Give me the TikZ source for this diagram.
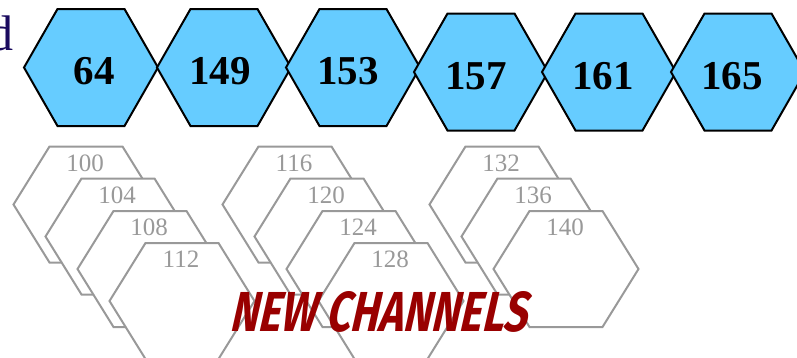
\documentclass[tikz,border=0pt]{standalone}
\usepackage{fontspec}
\usepackage{graphicx}
\setmainfont{Liberation Serif}
\newfontfamily\brushfont[FakeSlant=0.3]{Fira Sans}
\definecolor{hexblue}{HTML}{66CCFF}
\definecolor{hexgray}{HTML}{999999}
\definecolor{newred}{HTML}{990000}
\definecolor{navyd}{HTML}{1A0A5E}
\begin{document}
\begin{tikzpicture}[x=1pt,y=-1pt,
  bluehex/.style={fill=hexblue,draw=black,line width=2pt,line join=miter},
  grayhex/.style={fill=white,draw=hexgray,line width=2pt,line join=miter},
  bluelabel/.style={font=\fontsize{41}{41}\selectfont\bfseries,text=black,inner sep=0pt},
  graylabel/.style={font=\fontsize{25}{25}\selectfont,text=hexgray,inner sep=0pt},
  redlabel/.style={text=newred,inner sep=0pt}]
\useasboundingbox (0,0) rectangle (797,357);
% partial letter at the left edge
\node[anchor=base east,font=\fontsize{50}{50}\selectfont,text=navyd,inner sep=0pt] (dletter) at (14,50) {d};
% blue channel hexagons
\foreach \cx/\cy/\tx/\ty/\lab in {91/67.5/94/71/64, 224/67.5/220/71/149, 353/67.5/348/71/153,
  481/72/476/76/157, 609/72/603/76/161, 738/72/732/76/165}{
  \draw[bluehex] (\cx-67,\cy) -- ++(33.5,-58.5) -- ++(67,0) -- ++(33.5,58.5)
    -- ++(-33.5,58.5) -- ++(-67,0) -- cycle;
  \node[bluelabel] (b\lab) at (\tx,\ty) {\lab};
}
% gray new-channel hexagons
\foreach \cx/\cy/\lab in {86/204.5/100, 118/236.5/104, 150/269/108, 182/301/112,
  295/204.5/116, 327/236.5/120, 359/269/124, 391/301/128,
  502/204.5/132, 534/236.5/136, 566/269/140}{
  \draw[grayhex] (\cx-72.5,\cy) -- ++(36,-58) -- ++(73,0) -- ++(36,58)
    -- ++(-36,58) -- ++(-73,0) -- cycle;
  \node[graylabel] (g\lab) at (\cx-1,\cy-41.5) {\lab};
}
\node[redlabel] (newch) at (378,312)
  {\resizebox{297pt}{40pt}{\brushfont\bfseries NEW CHANNELS}};
\end{tikzpicture}
\end{document}
